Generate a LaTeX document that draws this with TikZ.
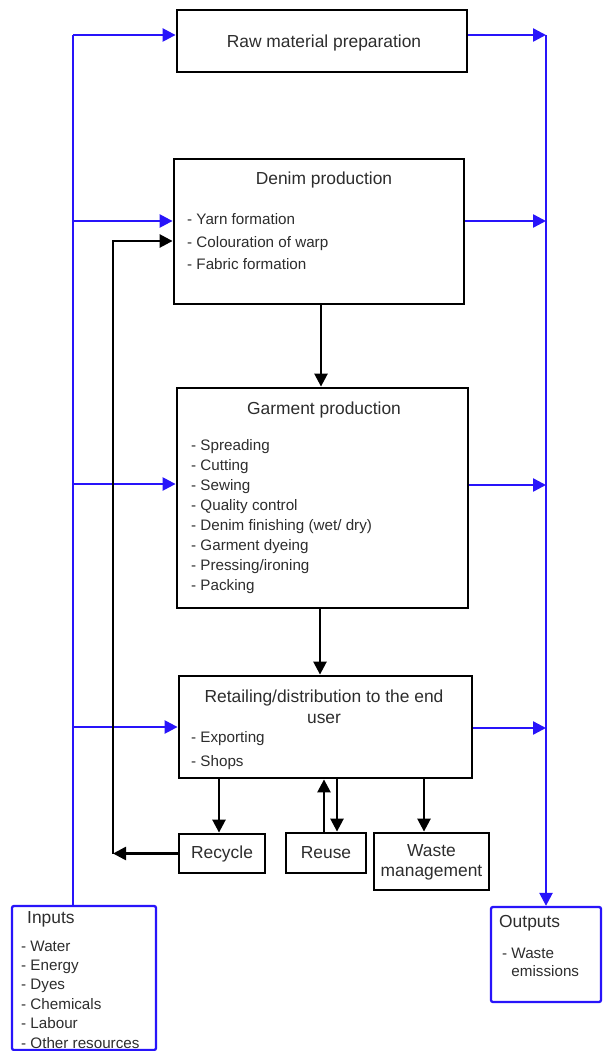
\documentclass[tikz,border=0pt]{standalone}
\usepackage{fontspec}
\setmainfont{Liberation Sans}
\usetikzlibrary{arrows.meta}
\definecolor{bluec}{RGB}{40,20,250}
\definecolor{txt}{RGB}{45,45,45}
\newcommand\ttlfont{\fontsize{17.4}{21.3}\selectfont}
\newcommand\itmfont{\fontsize{15.2}{20}\selectfont}
\begin{document}
\begin{tikzpicture}[x=1pt,y=-1pt,
  box/.style={draw=black,line width=2.8pt,rectangle,inner sep=0pt,fill=white},
  iobox/.style={draw=bluec,line width=2.3pt,rectangle,rounded corners=2pt,inner sep=0pt},
  ttl/.style={text=txt,font=\ttlfont,align=center,inner sep=0pt},
  itm/.style={text=txt,font=\itmfont,align=left,inner sep=0pt,anchor=west},
  bline/.style={draw=bluec,line width=2.4pt},
  barrow/.style={bline,-{Triangle[length=13pt,width=13pt]}},
  karrow/.style={draw=black,line width=2.5pt,-{Triangle[length=13pt,width=13pt]}}]
\useasboundingbox (0,0) rectangle (602,1051);
\fill[white] (0,0) rectangle (602,1051);
% boxes
\node[box,minimum width=290pt,minimum height=62pt] (raw) at (322,41) {};
\node[box,minimum width=290pt,minimum height=145pt] (denim) at (319,231.5) {};
\node[box,minimum width=291pt,minimum height=220pt] (garment) at (322.5,498) {};
\node[box,minimum width=293pt,minimum height=102pt] (retail) at (325.5,727) {};
\node[box,minimum width=86pt,minimum height=39pt] (recycle) at (222,853.5) {};
\node[box,minimum width=80pt,minimum height=40pt] (reuse) at (326,853) {};
\node[box,minimum width=115pt,minimum height=57pt] (waste) at (431.5,861.5) {};
\node[iobox,minimum width=144pt,minimum height=144pt] (inputs) at (84,978) {};
\node[iobox,minimum width=110pt,minimum height=95pt] (outputs) at (546,954.5) {};
% texts
\node[ttl] (rawt) at (324,43) {Raw material preparation};
\node[ttl] (denimt) at (324,180) {Denim production};
\node[itm,font=\fontsize{15.2}{22.5}\selectfont] (denimi) at (187,242) {- Yarn formation\\- Colouration of warp\\- Fabric formation};
\node[ttl] (garmentt) at (324,410) {Garment production};
\node[itm] (garmenti) at (191,516.7) {- Spreading\\- Cutting\\- Sewing\\- Quality control\\- Denim finishing (wet/ dry)\\- Garment dyeing\\- Pressing/ironing\\- Packing};
\node[ttl] (retailt) at (324,706.6) {Retailing/distribution to the end\\user};
\node[itm,font=\fontsize{15.2}{24.4}\selectfont] (retaili) at (191,750.5) {- Exporting\\- Shops};
\node[ttl] (recyclet) at (222,854) {Recycle};
\node[ttl] (reuset) at (326,853) {Reuse};
\node[ttl,font=\fontsize{17.4}{20.3}\selectfont] (wastet) at (431.5,862) {Waste\\management};
\node[itm,font=\ttlfont] (inputst) at (27,919) {Inputs};
\node[itm,font=\fontsize{15.2}{19.4}\selectfont] (inputsi) at (21,994.5) {- Water\\- Energy\\- Dyes\\- Chemicals\\- Labour\\- Other resources};
\node[itm,font=\ttlfont] (outputst) at (499,923) {Outputs};
\node[itm,font=\fontsize{15.2}{18.3}\selectfont] (outputsi) at (502,962) {- Waste\\\phantom{- }emissions};
% blue input lines
\coordinate (lt) at (73,35);
\coordinate (ld) at (73,221);
\coordinate (lg) at (73,484);
\coordinate (lr) at (73,727);
\draw[bline] (inputs.north -| lt) -- (lt);
\draw[barrow] (lt) -- (lt -| raw.west);
\draw[barrow] (ld) -- (ld -| denim.west);
\draw[barrow] (lg) -- (lg -| garment.west);
\draw[barrow] (lr) -- (lr -| retail.west);
% blue output lines
\coordinate (rt) at (546,35);
\coordinate (rd) at (546,221);
\coordinate (rg) at (546,485);
\coordinate (rr) at (546,728);
\draw[barrow] (rt -| raw.east) -- (rt);
\draw[barrow] (rd -| denim.east) -- (rd);
\draw[barrow] (rg -| garment.east) -- (rg);
\draw[barrow] (rr -| retail.east) -- (rr);
\draw[barrow] (rt) -- (outputs.north);
% black flow
\draw[karrow] ([xshift=2pt]denim.south) -- ([xshift=2pt]denim.south |- garment.north);
\draw[karrow] ([xshift=-2.5pt]garment.south) -- ([xshift=-2.5pt]garment.south |- retail.north);
\draw[karrow] ([xshift=-3pt]recycle.north |- retail.south) -- ([xshift=-3pt]recycle.north);
\draw[karrow] ([xshift=-2pt]reuse.north) -- ([xshift=-2pt]reuse.north |- retail.south);
\draw[karrow] ([xshift=11pt]reuse.north |- retail.south) -- ([xshift=11pt]reuse.north);
\draw[karrow] ([xshift=-7.5pt]waste.north |- retail.south) -- ([xshift=-7.5pt]waste.north);
\coordinate (rc) at (113,853.5);
\coordinate (dk) at (113,241);
\draw[karrow] (recycle.west) -- (rc);
\draw[karrow] (rc) -- (dk) -- (dk -| denim.west);
\end{tikzpicture}
\end{document}
